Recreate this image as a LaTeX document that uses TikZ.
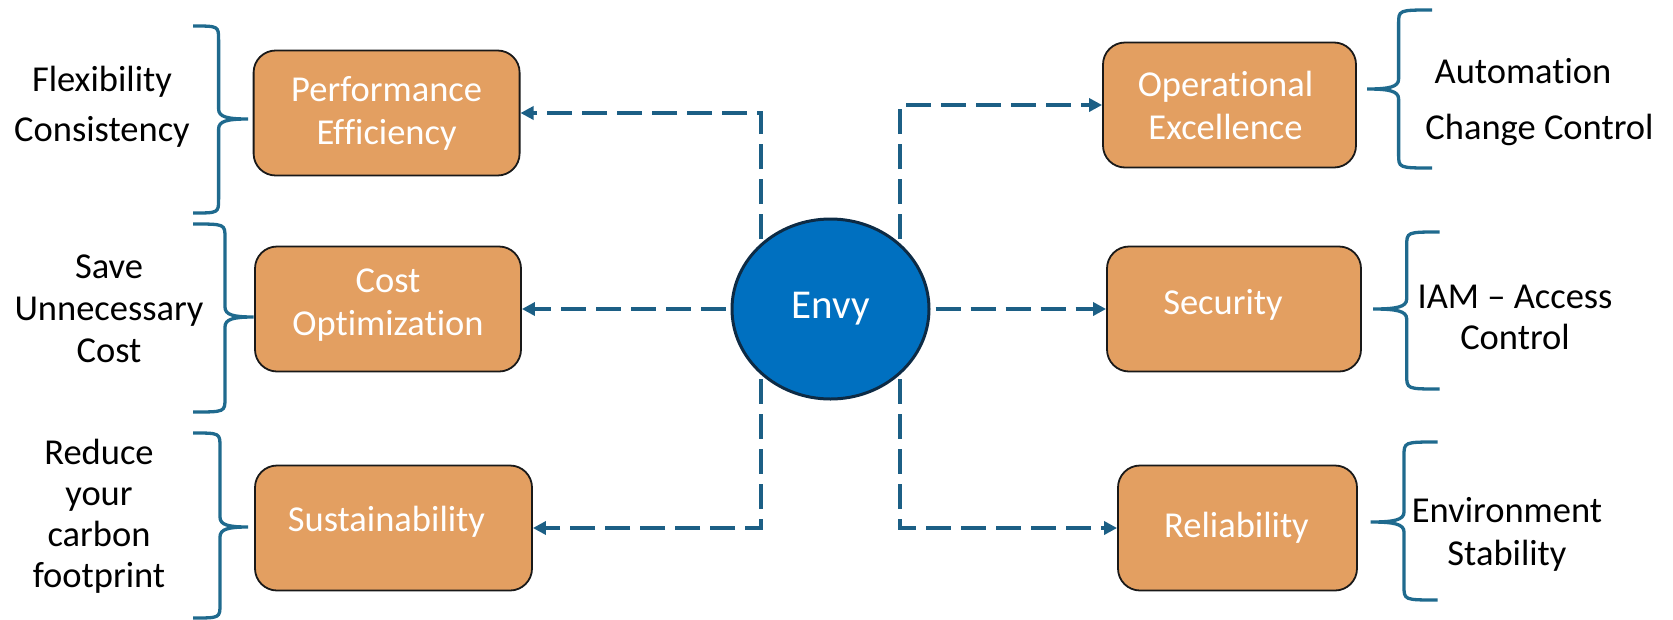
\documentclass[tikz,border=0pt]{standalone}
\usepackage{fontspec}
\setmainfont{Carlito}[Ligatures={TeX,NoCommon}]
\usetikzlibrary{arrows.meta,backgrounds,shapes.geometric}
\definecolor{boxfill}{HTML}{E39F61}
\definecolor{linkblue}{HTML}{1C5F85}
\definecolor{hubblue}{HTML}{0070C0}
\definecolor{hubedge}{HTML}{0D2B45}
\definecolor{bracecol}{HTML}{1F6A8E}

% curly brace: end x, spine x, tip x, top y, tip y, bottom y
\newcommand\sidebrace[6]{%
  \pgfmathsetmacro\bk{#2+0.3*(#3-#2)}%
  \draw[bracestyle] (#1,#4) .. controls (#2,#4) and (#2,#4) .. (#2,#4+14)
    -- (#2,#5-10) .. controls (#2,#5-2) and (\bk,#5) .. (#3,#5)
    .. controls (\bk,#5) and (#2,#5+2) .. (#2,#5+10)
    -- (#2,#6-14) .. controls (#2,#6) and (#2,#6) .. (#1,#6);}

\begin{document}
\begin{tikzpicture}[x=1pt,y=-1pt,
  pillar/.style={draw=black!90,line width=1.8pt,fill=boxfill,rounded corners=22pt,
    inner sep=0pt,minimum height=125pt},
  pilltext/.style={text=white,font=\fontsize{36.5}{43}\selectfont,align=center,inner sep=0pt},
  hub/.style={ellipse,draw=hubedge,line width=3pt,fill=hubblue,text=white,
    font=\fontsize{41}{47}\selectfont,minimum width=197pt,minimum height=180pt,inner sep=0pt},
  link/.style={draw=linkblue,line width=3.5pt,dash pattern=on 25pt off 10pt,
    -{Triangle[length=13pt,width=13pt]}},
  bracestyle/.style={draw=bracecol,line width=3.3pt},
  note/.style={text=black,align=center,inner sep=0pt}
]
\useasboundingbox (0,0) rectangle (1673,619);

% pillar boxes, their captions set as centre labels
\node[pillar,minimum width=266pt,
  label={[pilltext]center:{Performance\\Efficiency}}] (perf) at (386.6,113) {};
\node[pillar,minimum width=266pt,
  label={[pilltext,yshift=4pt]center:{Cost\\Optimization}}] (cost) at (388,309) {};
\node[pillar,minimum width=277pt,
  label={[pilltext,xshift=-7pt,yshift=6pt]center:Sustainability}] (sust) at (393.5,528) {};
\node[pillar,minimum width=253pt,
  label={[pilltext,xshift=-4pt]center:{Operational\\Excellence}}] (opex) at (1229.5,105) {};
\node[pillar,minimum width=254pt,
  label={[pilltext,xshift=-11pt,yshift=4pt]center:Security}] (sec) at (1234,309) {};
\node[pillar,minimum width=239pt,
  label={[pilltext,xshift=-1pt]center:Reliability}] (rel) at (1237.5,528) {};

% central hub
\node[hub] (envy) at (830.5,309) {Envy};

% column coordinates for the elbow connectors
\coordinate (lcol) at (761,0);
\coordinate (rcol) at (900,0);

\begin{scope}[on background layer]
\draw[link] (envy.center -| lcol) -- (lcol |- perf.east) -- (perf.east);
\draw[link] (envy.center) -- (cost.east);
\draw[link] (envy.center -| lcol) -- (lcol |- sust.east) -- (sust.east);
\draw[link] (envy.center -| rcol) -- (rcol |- opex.west) -- (opex.west);
\draw[link] (envy.center) -- (sec.west);
\draw[link] (envy.center -| rcol) -- (rcol |- rel.west) -- (rel.west);
\end{scope}

% braces
\sidebrace{193}{218.6}{248}{26}{119}{213}
\sidebrace{193}{225}{253.6}{224}{317}{412}
\sidebrace{193}{220}{248}{433}{527}{618}
\sidebrace{1432}{1398.6}{1367}{10}{89}{168}
\sidebrace{1439.5}{1406.7}{1373}{232}{309}{389}
\sidebrace{1437.6}{1404}{1370.7}{442}{522}{600}

% side notes
\node[note,font=\fontsize{36.5}{50}\selectfont] (flex) at (102,107) {Flexibility\\Consistency};
\node[note,font=\fontsize{36.5}{42}\selectfont] (save) at (109,309) {Save\\Unnecessary\\Cost};
\node[note,font=\fontsize{36.5}{41}\selectfont] (carb) at (99,516) {Reduce\\your\\carbon\\footprint};
\node[note,font=\fontsize{36.5}{56}\selectfont] (auto) at (1539.5,102.5) {Automation\kern33pt\\Change Control};
\node[note,font=\fontsize{36.5}{41}\selectfont] (iam) at (1515,317) {IAM – Access\\Control};
\node[note,font=\fontsize{36.5}{43}\selectfont] (envi) at (1507,534) {Environment\\Stability};
\end{tikzpicture}
\end{document}
